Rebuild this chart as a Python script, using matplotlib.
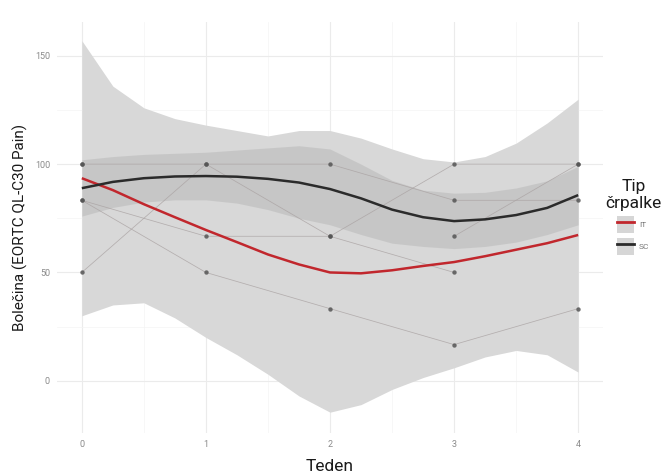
import matplotlib
matplotlib.use("Agg")
import matplotlib.pyplot as plt
import numpy as np
from matplotlib.patches import Patch
from matplotlib.lines import Line2D
from matplotlib.legend_handler import HandlerTuple

plt.rcParams['font.family'] = ['Roboto', 'DejaVu Sans']

# ---- data ----
weeks = [0, 1, 2, 3, 4]
patients = {
    "P1": [100, 100, 100, 83.3, 83.3],
    "P2": [83.3, 66.7, 66.7, 100, 100],
    "P3": [50, 100, 66.7, 50, np.nan],
    "P4": [83.3, 50, 33.3, 16.7, 33.3],
    "P5": [100, np.nan, np.nan, 66.7, 100],
}

smooth_x = [0, 0.25, 0.5, 0.75, 1, 1.25, 1.5, 1.75, 2, 2.25, 2.5, 2.75, 3, 3.25, 3.5, 3.75, 4]
it_fit = [93.5, 88, 81.5, 75.5, 69.6, 64, 58.3, 53.7, 50, 49.6, 51, 53, 54.8, 57.5, 60.5, 63.5, 67.3]
it_upper = [157, 136, 126, 121, 118, 115.5, 113, 115.5, 115.5, 112, 107, 102.5, 101, 103.5, 109.7, 119, 130]
it_lower = [30, 35, 36, 29, 20, 12, 3, -7, -14.5, -11, -4, 1.5, 6, 11, 14, 12, 4]
sc_fit = [88.9, 91.8, 93.5, 94.3, 94.5, 94.2, 93.2, 91.5, 88.5, 84.2, 79, 75.5, 73.7, 74.5, 76.5, 79.8, 85.7]
sc_upper = [102, 103.5, 104.5, 105, 105.5, 106.5, 107.5, 108.5, 107, 100, 92.5, 88, 86.6, 87, 89, 92.3, 99]
sc_lower = [76, 80, 82.5, 83.5, 83.5, 82, 79, 75, 72, 67.5, 63.5, 62, 61, 62, 64, 67.5, 72]

groups = ["IT", "SC"]
group_colors = {"IT": "#c1272d", "SC": "#2b2b2b"}

x_ticks = [0, 1, 2, 3, 4]
y_ticks = [0, 50, 100, 150]

# ---- figure ----
fig = plt.figure(figsize=(6.67, 4.76), dpi=100)
ax = fig.add_axes([57/667, 1-433/476, (603-57)/667, (433-22)/476])

ax.fill_between(smooth_x, it_lower, it_upper, color="#d8d8d8", lw=0, zorder=2)
ax.fill_between(smooth_x, sc_lower, sc_upper, color="#999999", alpha=0.27, lw=0, zorder=2)

for name, vals in patients.items():
    ax.plot(weeks, vals, color="#aaa3a3", lw=0.55, alpha=0.8, zorder=3)
    ax.scatter(weeks, vals, s=10, color="#555555", alpha=0.85, zorder=4, linewidths=0)

ax.plot(smooth_x, it_fit, color=group_colors["IT"], lw=1.8, zorder=5, solid_capstyle="butt")
ax.plot(smooth_x, sc_fit, color=group_colors["SC"], lw=1.8, zorder=5, solid_capstyle="butt")

ax.set_xlim(-0.2, 4.2)
ax.set_ylim(-24.1, 165.6)
ax.set_xticks(x_ticks)
ax.set_yticks(y_ticks)
ax.set_xticks([0.5, 1.5, 2.5, 3.5], minor=True)
ax.set_yticks([25, 75, 125], minor=True)
ax.grid(True, which="major", color="#ebebeb", lw=0.8, zorder=0)
ax.grid(True, which="minor", color="#f4f4f4", lw=0.5, zorder=0)
ax.set_axisbelow(True)
for s in ax.spines.values():
    s.set_visible(False)
ax.tick_params(which="both", length=0, labelsize=6.5, labelcolor="#8a8a8a", pad=5)

ax.set_xlabel("Teden", fontsize=12.5, color="#1a1a1a", labelpad=7)
ax.set_ylabel("Bolečina (EORTC QL-C30 Pain)", fontsize=11, color="#1a1a1a", labelpad=5)

handles = [(Patch(facecolor="#d6d6d6", edgecolor="none"),
            Line2D([], [], color=group_colors[g], lw=2)) for g in groups]
leg = fig.legend(handles, groups, title="Tip\nčrpalke",
                 handler_map={tuple: HandlerTuple(ndivide=1, pad=0)},
                 loc="center left", bbox_to_anchor=(602/667, 1-217/476),
                 frameon=False, fontsize=6, title_fontsize=12.5,
                 handlelength=2.0, handleheight=2.8, labelspacing=0.6,
                 handletextpad=0.6, borderaxespad=0)
for t in leg.get_texts():
    t.set_color("#777777")
leg.get_title().set_multialignment("center")
leg.get_title().set_color("#1a1a1a")

fig.savefig("out.png", dpi=100)
